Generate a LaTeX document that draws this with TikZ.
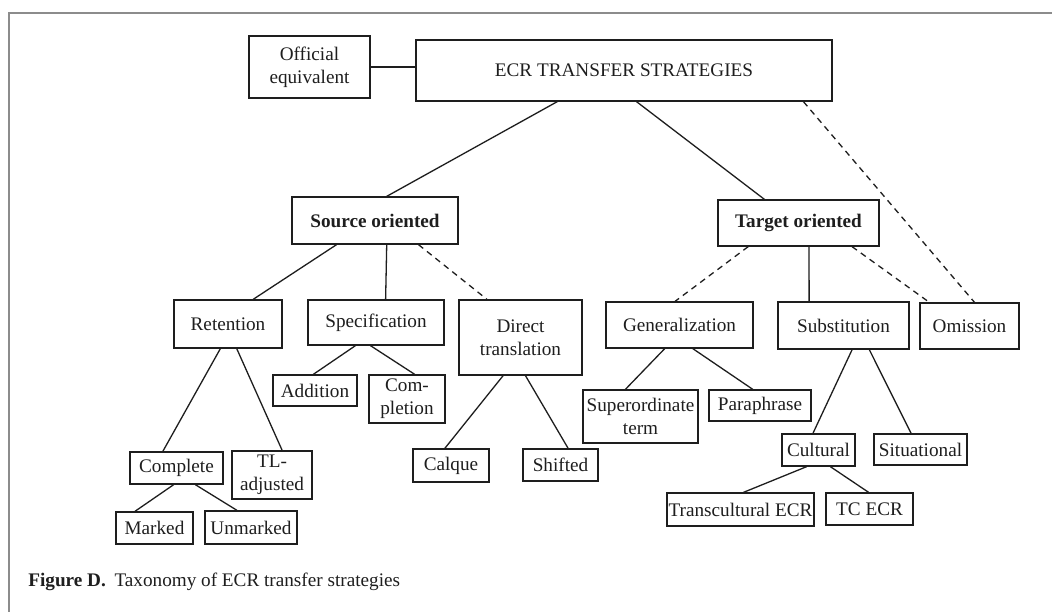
\documentclass[tikz,border=0pt]{standalone}
\usepackage{fontspec}
\setmainfont{Liberation Serif}
\usetikzlibrary{calc}
\definecolor{scanFrame}{HTML}{8C8C8C}
\definecolor{scanInk}{HTML}{1E1E1E}

\begin{document}
\begin{tikzpicture}[
  x=.5pt,
  y=-.5pt,
  box/.style={
    draw=scanInk,
    line width=.65pt,
    fill=white,
    inner sep=0pt,
    align=center,
    text=scanInk,
    font=\fontsize{9.6}{11.5}\selectfont
  },
  headbox/.style={box, font=\fontsize{9.6}{11.5}\selectfont\bfseries},
  boxsize/.style 2 args={minimum width=#1*.5pt, minimum height=#2*.5pt},
  branch/.style={draw=scanInk, line width=.65pt},
  optional/.style={branch, dash pattern=on 3pt off 2.4pt},
  caption/.style={anchor=west, inner sep=0pt, text=scanInk, font=\fontsize{9.6}{11.5}\selectfont}
]

\path[use as bounding box, fill=white] (0,0) rectangle (1052,612);
\draw[scanFrame, line width=1pt] (1052,12.5) -- (9,12.5) -- (9,612);

% top level
\node[box, boxsize={121}{62}] (official) at (309.5,67) {Official\\equivalent};
\node[box, boxsize={416}{61}] (ecr) at (624,70.5) {ECR TRANSFER STRATEGIES};

% orientation
\node[headbox, boxsize={166}{47}] (source) at (375,220.5) {Source oriented};
\node[headbox, boxsize={161}{46}] (target) at (798.5,223) {Target oriented};

% strategies
\node[box, boxsize={108}{48}] (retention) at (228,324) {Retention};
\node[box, boxsize={136}{45}] (specification) at (376,322.5) {Specification};
\node[box, boxsize={123}{75}] (direct) at (520.5,337.5) {Direct\\translation};
\node[box, boxsize={147}{46}] (generalization) at (679.5,325) {Generalization};
\node[box, boxsize={131}{47}] (substitution) at (843.5,325.5) {Substitution};
\node[box, boxsize={99}{46}] (omission) at (969.5,326) {Omission};

% sub-strategies
\node[box, boxsize={93}{32}] (complete) at (176.5,468) {Complete};
\node[box, boxsize={80}{48}] (tladj) at (272,475) {TL-\\adjusted};
\node[box, boxsize={77}{32}] (marked) at (154.5,528) {Marked};
\node[box, boxsize={92}{33}] (unmarked) at (251,527.5) {Unmarked};
\node[box, boxsize={84}{31}] (addition) at (315,390.5) {Addition};
\node[box, boxsize={76}{48}] (completion) at (407,399) {Com-\\pletion};
\node[box, boxsize={76}{33}] (calque) at (451,465.5) {Calque};
\node[box, boxsize={75}{32}] (shifted) at (560.5,465) {Shifted};
\node[box, boxsize={115}{53}] (superord) at (640.5,416.5) {Superordinate\\term};
\node[box, boxsize={102}{31}] (paraphrase) at (760,405.5) {Paraphrase};
\node[box, boxsize={73}{32}] (cultural) at (818.5,450) {Cultural};
\node[box, boxsize={93}{31}] (situational) at (920.5,449.5) {Situational};
\node[box, boxsize={147}{33}] (transcult) at (740.5,509.5) {Transcultural ECR};
\node[box, boxsize={87}{32}] (tcecr) at (869.5,509) {TC ECR};

\node[caption] (figcaption) at (28,582) {\textbf{Figure D.}\hspace{.45em}Taxonomy of ECR transfer strategies};

% connectors
\draw[branch] (official.east) -- (official.east -| ecr.west);
\draw[branch] ($(ecr.south west)!.34!(ecr.south east)$) -- ($(source.north west)!.57!(source.north east)$);
\draw[branch] ($(ecr.south west)!.53!(ecr.south east)$) -- ($(target.north west)!.29!(target.north east)$);
\draw[optional] ($(ecr.south west)!.93!(ecr.south east)$) -- ($(omission.north west)!.55!(omission.north east)$);

\draw[branch] ($(source.south west)!.27!(source.south east)$) -- ($(retention.north west)!.73!(retention.north east)$);
\draw[branch] ($(source.south west)!.57!(source.south east)$) -- ($(specification.north west)!.57!(specification.north east)$);
\draw[optional] ($(source.south west)!.76!(source.south east)$) -- ($(direct.north west)!.23!(direct.north east)$);

\draw[optional] ($(target.south west)!.19!(target.south east)$) -- ($(generalization.north west)!.47!(generalization.north east)$);
\draw[branch] ($(target.south west)!.565!(target.south east)$) -- ($(substitution.north west)!.24!(substitution.north east)$);
\draw[optional] ($(target.south west)!.83!(target.south east)$) -- ($(omission.north west)!.1!(omission.north east)$);

\draw[branch] ($(retention.south west)!.43!(retention.south east)$) -- ($(complete.north west)!.355!(complete.north east)$);
\draw[branch] ($(retention.south west)!.58!(retention.south east)$) -- ($(tladj.north west)!.625!(tladj.north east)$);
\draw[branch] ($(complete.south west)!.47!(complete.south east)$) -- ($(marked.north west)!.25!(marked.north east)$);
\draw[branch] ($(complete.south west)!.7!(complete.south east)$) -- ($(unmarked.north west)!.35!(unmarked.north east)$);

\draw[branch] ($(specification.south west)!.35!(specification.south east)$) -- ($(addition.north west)!.48!(addition.north east)$);
\draw[branch] ($(specification.south west)!.46!(specification.south east)$) -- ($(completion.north west)!.6!(completion.north east)$);
\draw[branch] ($(direct.south west)!.36!(direct.south east)$) -- ($(calque.north west)!.42!(calque.north east)$);
\draw[branch] ($(direct.south west)!.54!(direct.south east)$) -- ($(shifted.north west)!.6!(shifted.north east)$);

\draw[branch] ($(generalization.south west)!.4!(generalization.south east)$) -- ($(superord.north west)!.37!(superord.north east)$);
\draw[branch] ($(generalization.south west)!.59!(generalization.south east)$) -- ($(paraphrase.north west)!.43!(paraphrase.north east)$);
\draw[branch] ($(substitution.south west)!.565!(substitution.south east)$) -- ($(cultural.north west)!.425!(cultural.north east)$);
\draw[branch] ($(substitution.south west)!.695!(substitution.south east)$) -- ($(situational.north west)!.4!(situational.north east)$);
\draw[branch] ($(cultural.south west)!.34!(cultural.south east)$) -- ($(transcult.north west)!.52!(transcult.north east)$);
\draw[branch] ($(cultural.south west)!.66!(cultural.south east)$) -- ($(tcecr.north west)!.49!(tcecr.north east)$);
\end{tikzpicture}
\end{document}
